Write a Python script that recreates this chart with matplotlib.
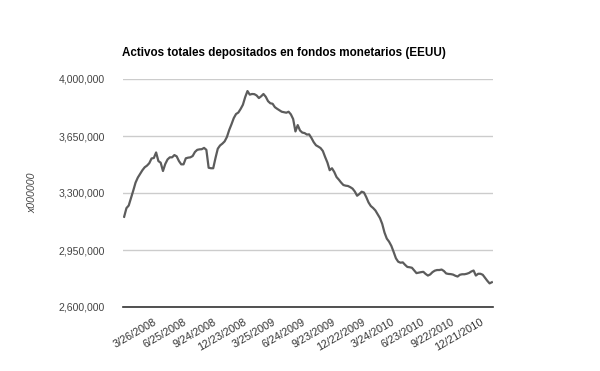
import matplotlib
matplotlib.use("Agg")
import matplotlib.pyplot as plt
from matplotlib.ticker import FuncFormatter

plt.rcParams['font.family'] = ['Liberation Sans', 'DejaVu Sans']

title = "Activos totales depositados en fondos monetarios (EEUU)"
y_label = "x000000"

# weekly total assets, in thousands
values_k = [
    3154, 3207, 3223, 3268, 3315, 3364, 3395, 3417, 3440, 3458,
    3468, 3483, 3512, 3515, 3549, 3496, 3486, 3435, 3478, 3506,
    3519, 3519, 3533, 3525, 3496, 3476, 3476, 3513, 3517, 3519,
    3527, 3552, 3565, 3568, 3569, 3577, 3565, 3455, 3452, 3452,
    3515, 3572, 3592, 3603, 3617, 3644, 3687, 3722, 3760, 3785,
    3794, 3816, 3842, 3889, 3926, 3904, 3908, 3907, 3899, 3883,
    3894, 3908, 3891, 3864, 3851, 3848, 3827, 3817, 3808, 3799,
    3796, 3793, 3799, 3783, 3754, 3678, 3717, 3684, 3671, 3668,
    3659, 3660, 3638, 3612, 3593, 3585, 3576, 3558, 3521, 3487,
    3440, 3452, 3429, 3398, 3382, 3364, 3349, 3345, 3343, 3336,
    3327, 3309, 3283, 3294, 3308, 3303, 3275, 3242, 3220, 3208,
    3193, 3170, 3146, 3110, 3057, 3020, 3001, 2975, 2938, 2899,
    2878, 2872, 2874, 2859, 2846, 2844, 2841, 2825, 2808, 2811,
    2814, 2816, 2803, 2793, 2800, 2814, 2823, 2827, 2827, 2830,
    2821, 2806, 2803, 2802, 2799, 2792, 2787, 2798, 2801, 2801,
    2804, 2809, 2818, 2824, 2793, 2804, 2804, 2798, 2779, 2761,
    2745, 2752,
]
values = [v * 1000 for v in values_k]

tick_labels = ["3/26/2008", "6/25/2008", "9/24/2008", "12/23/2008",
               "3/25/2009", "6/24/2009", "9/23/2009", "12/22/2009",
               "3/24/2010", "6/23/2010", "9/22/2010", "12/21/2010"]
label_every = 13

y_ticks = [2600000, 2950000, 3300000, 3650000, 4000000]

fig = plt.figure(figsize=(6.0, 3.71), dpi=100)
W, H = 600, 371
ax = fig.add_axes([123 / W, 1 - 307 / H, 370 / W, 228 / H])

n = len(values)
xs = list(range(n))
ax.plot(xs, values, color='#5c5c5c', lw=1.6, solid_joinstyle='round')

ax.set_xlim(-0.5, n - 0.5)
ax.set_ylim(y_ticks[0], y_ticks[-1])
ax.set_yticks(y_ticks)
ax.yaxis.set_major_formatter(FuncFormatter(lambda v, p: f"{int(v):,}"))
ax.grid(axis='y', color='#cccccc', lw=1)
ax.set_axisbelow(True)
for s in ['top', 'right', 'left']:
    ax.spines[s].set_visible(False)
ax.spines['bottom'].set_color('#333333')
ax.spines['bottom'].set_linewidth(1.2)

tick_pos = [label_every * (k + 1) for k in range(len(tick_labels))]
ax.set_xticks(tick_pos)
ax.set_xticklabels(tick_labels, rotation=30, ha='right', va='top',
                   rotation_mode='anchor', fontsize=7.8, color='#333333')
ax.tick_params(axis='x', length=0, pad=7)
ax.tick_params(axis='y', length=0, pad=13, labelsize=7.6, labelcolor='#444444')

fig.text(32 / W, 1 - 193 / H, y_label, rotation=90, ha='center', va='center',
         fontsize=7.6, style='italic', color='#444444')
fig.text(122 / W, 1 - 53 / H, title, ha='left', va='center',
         fontsize=8.4, fontweight='bold', color='#000000')

fig.savefig("out.png", dpi=100)
